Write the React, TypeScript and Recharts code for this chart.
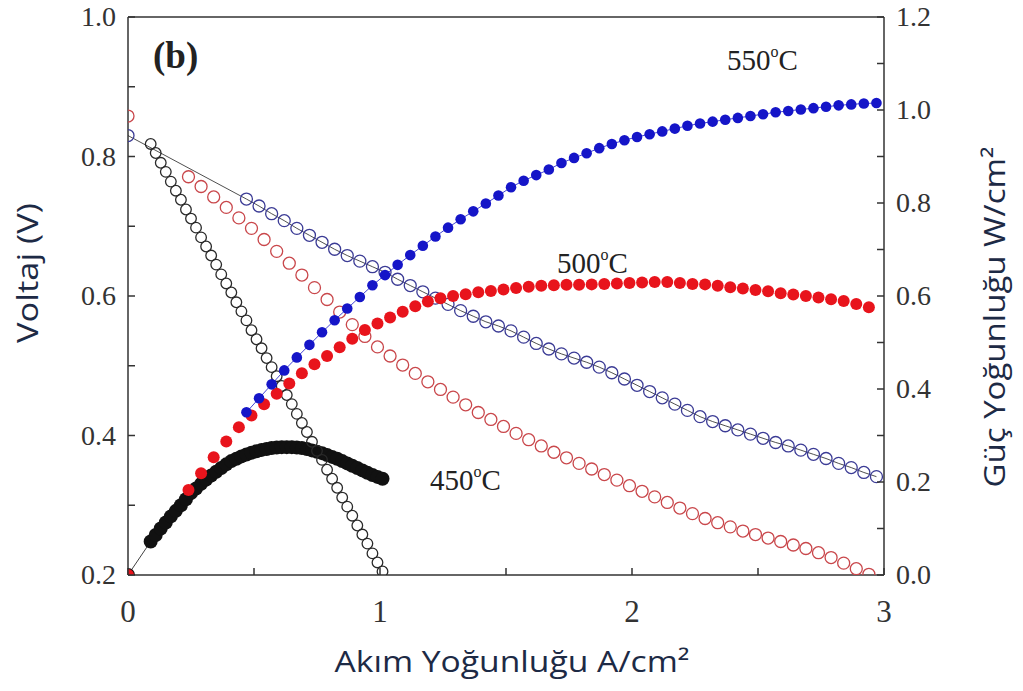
import { ComposedChart, ReferenceLine, Scatter, XAxis, YAxis } from "recharts";

// 550 °C  (current A/cm2, voltage V, power W/cm2)
const current550 = [
  0.47, 0.52, 0.57, 0.62, 0.67, 0.72, 0.77, 0.82, 0.87, 0.92, 0.97, 1.02, 1.07, 1.12, 1.17, 1.22, 1.27,
  1.32, 1.37, 1.42, 1.47, 1.52, 1.57, 1.62, 1.67, 1.72, 1.77, 1.82, 1.87, 1.92, 1.97, 2.02, 2.07, 2.12,
  2.17, 2.22, 2.27, 2.32, 2.37, 2.42, 2.47, 2.52, 2.57, 2.62, 2.67, 2.72, 2.77, 2.82, 2.87, 2.92, 2.97,
];
const voltage550 = [
  0.739, 0.729, 0.718, 0.708, 0.697, 0.687, 0.677, 0.667, 0.658, 0.65, 0.642, 0.634, 0.624, 0.615, 0.606,
  0.597, 0.588, 0.579, 0.571, 0.563, 0.557, 0.55, 0.541, 0.532, 0.524, 0.517, 0.511, 0.505, 0.498, 0.49,
  0.481, 0.472, 0.463, 0.454, 0.445, 0.436, 0.427, 0.42, 0.414, 0.408, 0.402, 0.396, 0.39, 0.385, 0.379,
  0.373, 0.367, 0.36, 0.354, 0.347, 0.341,
];
const power550 = [
  0.35, 0.38, 0.41, 0.44, 0.468, 0.495, 0.522, 0.548, 0.573, 0.598, 0.623, 0.645, 0.667, 0.688, 0.708,
  0.728, 0.747, 0.765, 0.782, 0.799, 0.816, 0.834, 0.848, 0.86, 0.872, 0.886, 0.897, 0.907, 0.918, 0.927,
  0.935, 0.942, 0.948, 0.954, 0.96, 0.966, 0.971, 0.975, 0.979, 0.983, 0.987, 0.991, 0.995, 0.998, 1.001,
  1.004, 1.007, 1.01, 1.012, 1.014, 1.015,
];
const openCircuit550 = 0.83;

// 500 °C
const current500 = [
  0.24, 0.29, 0.34, 0.39, 0.44, 0.49, 0.54, 0.59, 0.64, 0.69, 0.74, 0.79, 0.84, 0.89, 0.94, 0.99, 1.04,
  1.09, 1.14, 1.19, 1.24, 1.29, 1.34, 1.39, 1.44, 1.49, 1.54, 1.59, 1.64, 1.69, 1.74, 1.79, 1.84, 1.89,
  1.94, 1.99, 2.04, 2.09, 2.14, 2.19, 2.24, 2.29, 2.34, 2.39, 2.44, 2.49, 2.54, 2.59, 2.64, 2.69, 2.74,
  2.79, 2.84, 2.89, 2.94,
];
const voltage500 = [
  0.771, 0.757, 0.742, 0.727, 0.712, 0.697, 0.681, 0.664, 0.647, 0.63, 0.612, 0.595, 0.577, 0.559, 0.542,
  0.527, 0.514, 0.501, 0.489, 0.477, 0.466, 0.455, 0.444, 0.433, 0.423, 0.413, 0.403, 0.394, 0.385, 0.376,
  0.368, 0.36, 0.352, 0.344, 0.336, 0.328, 0.32, 0.312, 0.304, 0.296, 0.288, 0.281, 0.275, 0.269, 0.263,
  0.258, 0.253, 0.248, 0.243, 0.238, 0.232, 0.225, 0.217, 0.209, 0.201,
];
const power500 = [
  0.183, 0.219, 0.253, 0.287, 0.318, 0.343, 0.367, 0.39, 0.412, 0.434, 0.453, 0.471, 0.49, 0.508, 0.527,
  0.541, 0.554, 0.566, 0.578, 0.588, 0.595, 0.6, 0.604, 0.608, 0.611, 0.614, 0.617, 0.62, 0.622, 0.623,
  0.624, 0.624, 0.625, 0.626, 0.627, 0.628, 0.629, 0.63, 0.63, 0.628, 0.626, 0.625, 0.622, 0.619, 0.616,
  0.613, 0.61, 0.606, 0.603, 0.6, 0.597, 0.593, 0.589, 0.583, 0.576,
];
const openCircuit500 = 0.858;

// 450 °C
const current450 = [
  0.09, 0.11, 0.13, 0.15, 0.17, 0.19, 0.21, 0.23, 0.25, 0.27, 0.29, 0.31, 0.33, 0.35, 0.37, 0.39, 0.41,
  0.43, 0.45, 0.47, 0.49, 0.51, 0.53, 0.55, 0.57, 0.59, 0.61, 0.63, 0.65, 0.67, 0.69, 0.71, 0.73, 0.75,
  0.77, 0.79, 0.81, 0.83, 0.85, 0.87, 0.89, 0.91, 0.93, 0.95, 0.97, 0.99, 1.01,
];
const voltage450 = [
  0.818, 0.805, 0.791, 0.778, 0.764, 0.751, 0.738, 0.724, 0.711, 0.698, 0.684, 0.671, 0.658, 0.645, 0.631,
  0.618, 0.605, 0.591, 0.578, 0.565, 0.551, 0.538, 0.525, 0.511, 0.498, 0.485, 0.471, 0.458, 0.445, 0.431,
  0.418, 0.405, 0.391, 0.378, 0.365, 0.351, 0.338, 0.325, 0.311, 0.298, 0.285, 0.271, 0.258, 0.245, 0.231,
  0.218, 0.205,
];
const power450 = [
  0.072, 0.086, 0.1, 0.113, 0.126, 0.138, 0.15, 0.163, 0.176, 0.186, 0.196, 0.205, 0.214, 0.222, 0.23,
  0.238, 0.245, 0.25, 0.255, 0.259, 0.263, 0.266, 0.269, 0.271, 0.273, 0.274, 0.275, 0.275, 0.275, 0.274,
  0.273, 0.271, 0.268, 0.265, 0.262, 0.258, 0.254, 0.25, 0.245, 0.24, 0.235, 0.23, 0.225, 0.22, 0.215,
  0.211, 0.207,
];

const xTicks = [0, 0.5, 1, 1.5, 2, 2.5, 3];
const voltTicks = [0.2, 0.3, 0.4, 0.5, 0.6, 0.7, 0.8, 0.9, 1.0];
const powerTicks = [0, 0.1, 0.2, 0.3, 0.4, 0.5, 0.6, 0.7, 0.8, 0.9, 1.0, 1.1, 1.2];

const pts = (xs: number[], ys: number[]) => xs.map((x, i) => ({ x, y: ys[i] }));

const AXIS = "#333";
const TICK_LEN = 7;
const MARGIN = 12;
const serif = "'Liberation Serif', 'Times New Roman', serif";
const sans = "'Open Sans', 'Noto Sans', sans-serif";
const titleColor = "#1d2a45";

const isMajor = (v: number) => Math.round(v * 10) % 2 === 0;

function LeftTick({ x, y, payload }: any) {
  const v = payload.value as number;
  const ax = x + MARGIN;
  return (
    <g>
      <line x1={ax} x2={ax + TICK_LEN} y1={y} y2={y} stroke={AXIS} strokeWidth={1.5} />
      {isMajor(v) && (
        <text x={x} y={y} dy={9} textAnchor="end" fontFamily={serif} fontSize={28} fill="#333">
          {v.toFixed(1)}
        </text>
      )}
    </g>
  );
}

function RightTick({ x, y, payload }: any) {
  const v = payload.value as number;
  const ax = x - MARGIN;
  return (
    <g>
      <line x1={ax} x2={ax - TICK_LEN} y1={y} y2={y} stroke={AXIS} strokeWidth={1.5} />
      {isMajor(v) && (
        <text x={x} y={y} dy={9} textAnchor="start" fontFamily={serif} fontSize={28} fill="#333">
          {v.toFixed(1)}
        </text>
      )}
    </g>
  );
}

function BottomTick({ x, y, payload }: any) {
  const v = payload.value as number;
  const ay = y - MARGIN;
  return (
    <g>
      <line x1={x} x2={x} y1={ay} y2={ay - TICK_LEN} stroke={AXIS} strokeWidth={1.5} />
      {Number.isInteger(v) && (
        <text x={x} y={y} dy={35} textAnchor="middle" fontFamily={serif} fontSize={31} fill="#333">
          {v}
        </text>
      )}
    </g>
  );
}

const openCircle = (stroke: string, r: number) => (p: any) =>
  <circle cx={p.cx} cy={p.cy} r={r} fill="none" stroke={stroke} strokeWidth={1.3} />;
const dotCircle = (fill: string, r: number) => (p: any) =>
  <circle cx={p.cx} cy={p.cy} r={r} fill={fill} />;

function TempLabel({ x, y, t }: { x: number; y: number; t: string }) {
  return (
    <text x={x} y={y} fontFamily={serif} fontSize={29} fill="#222">
      {t}
      <tspan fontSize={16} dy={-13}>o</tspan>
      <tspan dy={13}>C</tspan>
    </text>
  );
}

export default function App() {
  const blueV = [{ x: 0, y: openCircuit550 }, ...pts(current550, voltage550)];
  const blueP = pts(current550, power550);
  const redV = [{ x: 0, y: openCircuit500 }, ...pts(current500, voltage500)];
  const redP = [{ x: 0, y: 0 }, ...pts(current500, power500)];
  const blackV = pts(current450, voltage450);
  const blackP = [{ x: 0, y: 0 }, ...pts(current450, power450)];

  return (
    <div style={{ position: "absolute", left: 0, top: 0, width: 1023, height: 691, background: "#fff" }}>
      <ComposedChart width={1023} height={691} margin={{ top: 17, right: 79, left: 68, bottom: 76 }}>
        <XAxis
          dataKey="x"
          type="number"
          domain={[0, 3]}
          ticks={xTicks}
          interval={0}
          height={40}
          tickSize={0}
          tickMargin={MARGIN}
          tick={<BottomTick />}
          axisLine={{ stroke: AXIS, strokeWidth: 1.5 }}
          allowDataOverflow
        />
        <YAxis
          yAxisId="v"
          dataKey="y"
          type="number"
          domain={[0.2, 1.0]}
          ticks={voltTicks}
          interval={0}
          width={60}
          tickSize={0}
          tickMargin={MARGIN}
          tick={<LeftTick />}
          axisLine={{ stroke: AXIS, strokeWidth: 1.5 }}
          allowDataOverflow
        />
        <YAxis
          yAxisId="p"
          orientation="right"
          dataKey="y"
          type="number"
          domain={[0, 1.2]}
          ticks={powerTicks}
          interval={0}
          width={60}
          tickSize={0}
          tickMargin={MARGIN}
          tick={<RightTick />}
          axisLine={{ stroke: AXIS, strokeWidth: 1.5 }}
          allowDataOverflow
        />
        <ReferenceLine yAxisId="v" y={1.0} stroke={AXIS} strokeWidth={1.5} />

        <Scatter yAxisId="p" data={blackP} line={{ stroke: "#111", strokeWidth: 0.8 }} shape={dotCircle("#111", 7)} isAnimationActive={false} />
        <Scatter yAxisId="v" data={blackV} shape={openCircle("#2a2a2a", 5.3)} isAnimationActive={false} />
        <Scatter yAxisId="v" data={redV} shape={openCircle("#c9474b", 6)} isAnimationActive={false} />
        <Scatter yAxisId="v" data={blueV} line={{ stroke: "#222", strokeWidth: 0.8 }} shape={openCircle("#3b3b95", 6)} isAnimationActive={false} />
        <Scatter yAxisId="p" data={redP} shape={dotCircle("#e8141c", 6)} isAnimationActive={false} />
        <Scatter yAxisId="p" data={blueP} line={{ stroke: "#1515c8", strokeWidth: 0.8 }} shape={dotCircle("#1515c8", 5.3)} isAnimationActive={false} />
      </ComposedChart>

      <svg width={1023} height={691} style={{ position: "absolute", left: 0, top: 0, pointerEvents: "none" }}>
        <text x={153} y={68} fontFamily={serif} fontSize={37} fontWeight="bold" fill="#222">(b)</text>
        <TempLabel x={727} y={70} t="550" />
        <TempLabel x={557} y={273} t="500" />
        <TempLabel x={430} y={490} t="450" />
        <text
          transform="translate(38 273) rotate(-90)"
          textAnchor="middle"
          fontFamily={sans}
          fontSize={30}
          fill={titleColor}
          textLength={140}
          lengthAdjust="spacingAndGlyphs"
        >
          Voltaj (V)
        </text>
        <text
          x={512}
          y={672}
          textAnchor="middle"
          fontFamily={sans}
          fontSize={29}
          fill={titleColor}
          textLength={355}
          lengthAdjust="spacingAndGlyphs"
        >
          Akım Yoğunluğu A/cm²
        </text>
        <text
          transform="translate(1005 317) rotate(-90)"
          textAnchor="middle"
          fontFamily={sans}
          fontSize={29}
          fill={titleColor}
          textLength={341}
          lengthAdjust="spacingAndGlyphs"
        >
          Güç Yoğunluğu W/cm²
        </text>
      </svg>
    </div>
  );
}
